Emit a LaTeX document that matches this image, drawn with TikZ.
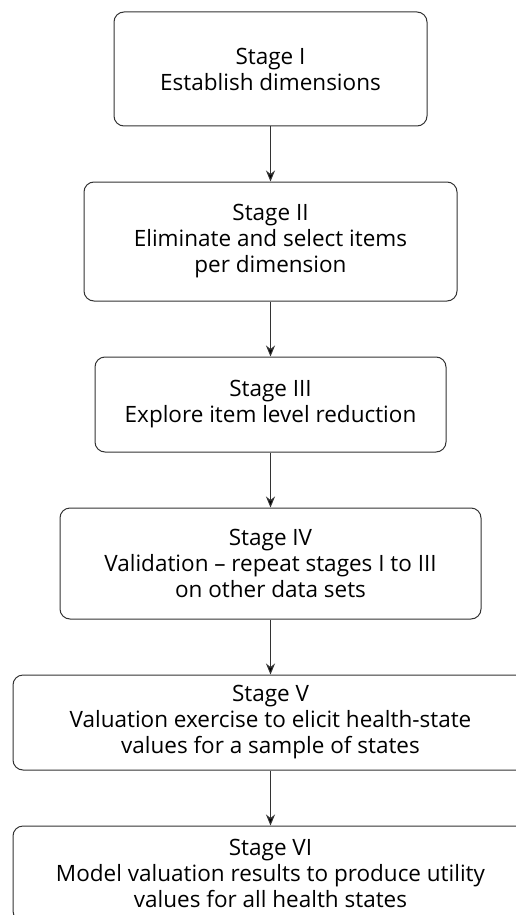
\documentclass[tikz,border=0pt]{standalone}
\usepackage{fontspec}
\setmainfont{Open Sans}
\usepackage{tikz}
\usetikzlibrary{arrows.meta}
\usetikzlibrary{positioning}

\begin{document}
\begin{tikzpicture}[->,>={Stealth[length=11pt,width=9pt]},node distance=55pt]
      \tikzstyle{line} = [draw=black!80, line width=1pt]
      \tikzstyle{stage node} = [rectangle, rounded corners=10pt, draw=black!80, line width=1pt,
         align=center, inner sep=2pt, font=\fontsize{22.5}{26}\selectfont]
      \useasboundingbox (0,0) rectangle (516pt,-915pt);
      \clip (0,0) rectangle (516pt,-915pt);
      %nodes
      \node[stage node, minimum width=313pt, minimum height=114pt] (stageI) at (270.5pt,-69pt) {Stage I\\Establish dimensions};
      \node[stage node, minimum width=373pt, minimum height=119pt] (stageII) [below=of stageI] {Stage II\\Eliminate and select items\\per dimension};
      \node[stage node, minimum width=351pt, minimum height=95pt] (stageIII) [below=of stageII] {Stage III\\Explore item level reduction};
      \node[stage node, minimum width=421pt, minimum height=111pt] (stageIV) [below=of stageIII] {Stage IV\\Validation -- repeat stages I to III\\on other data sets};
      \node[stage node, minimum width=515pt, minimum height=95pt] (stageV) [below=of stageIV] {Stage V\\Valuation exercise to elicit health-state\\values for a sample of states};
      \node[stage node, minimum width=515pt, minimum height=95pt] (stageVI) [below=of stageV] {Stage VI\\Model valuation results to produce utility\\values for all health states};

      %lines
      \path [line] (stageI) edge (stageII);
      \path [line] (stageII) edge (stageIII);
      \path [line] (stageIII) edge (stageIV);
      \path [line] (stageIV) edge (stageV);
      \path [line] (stageV) edge (stageVI);
\end{tikzpicture}
\end{document}
